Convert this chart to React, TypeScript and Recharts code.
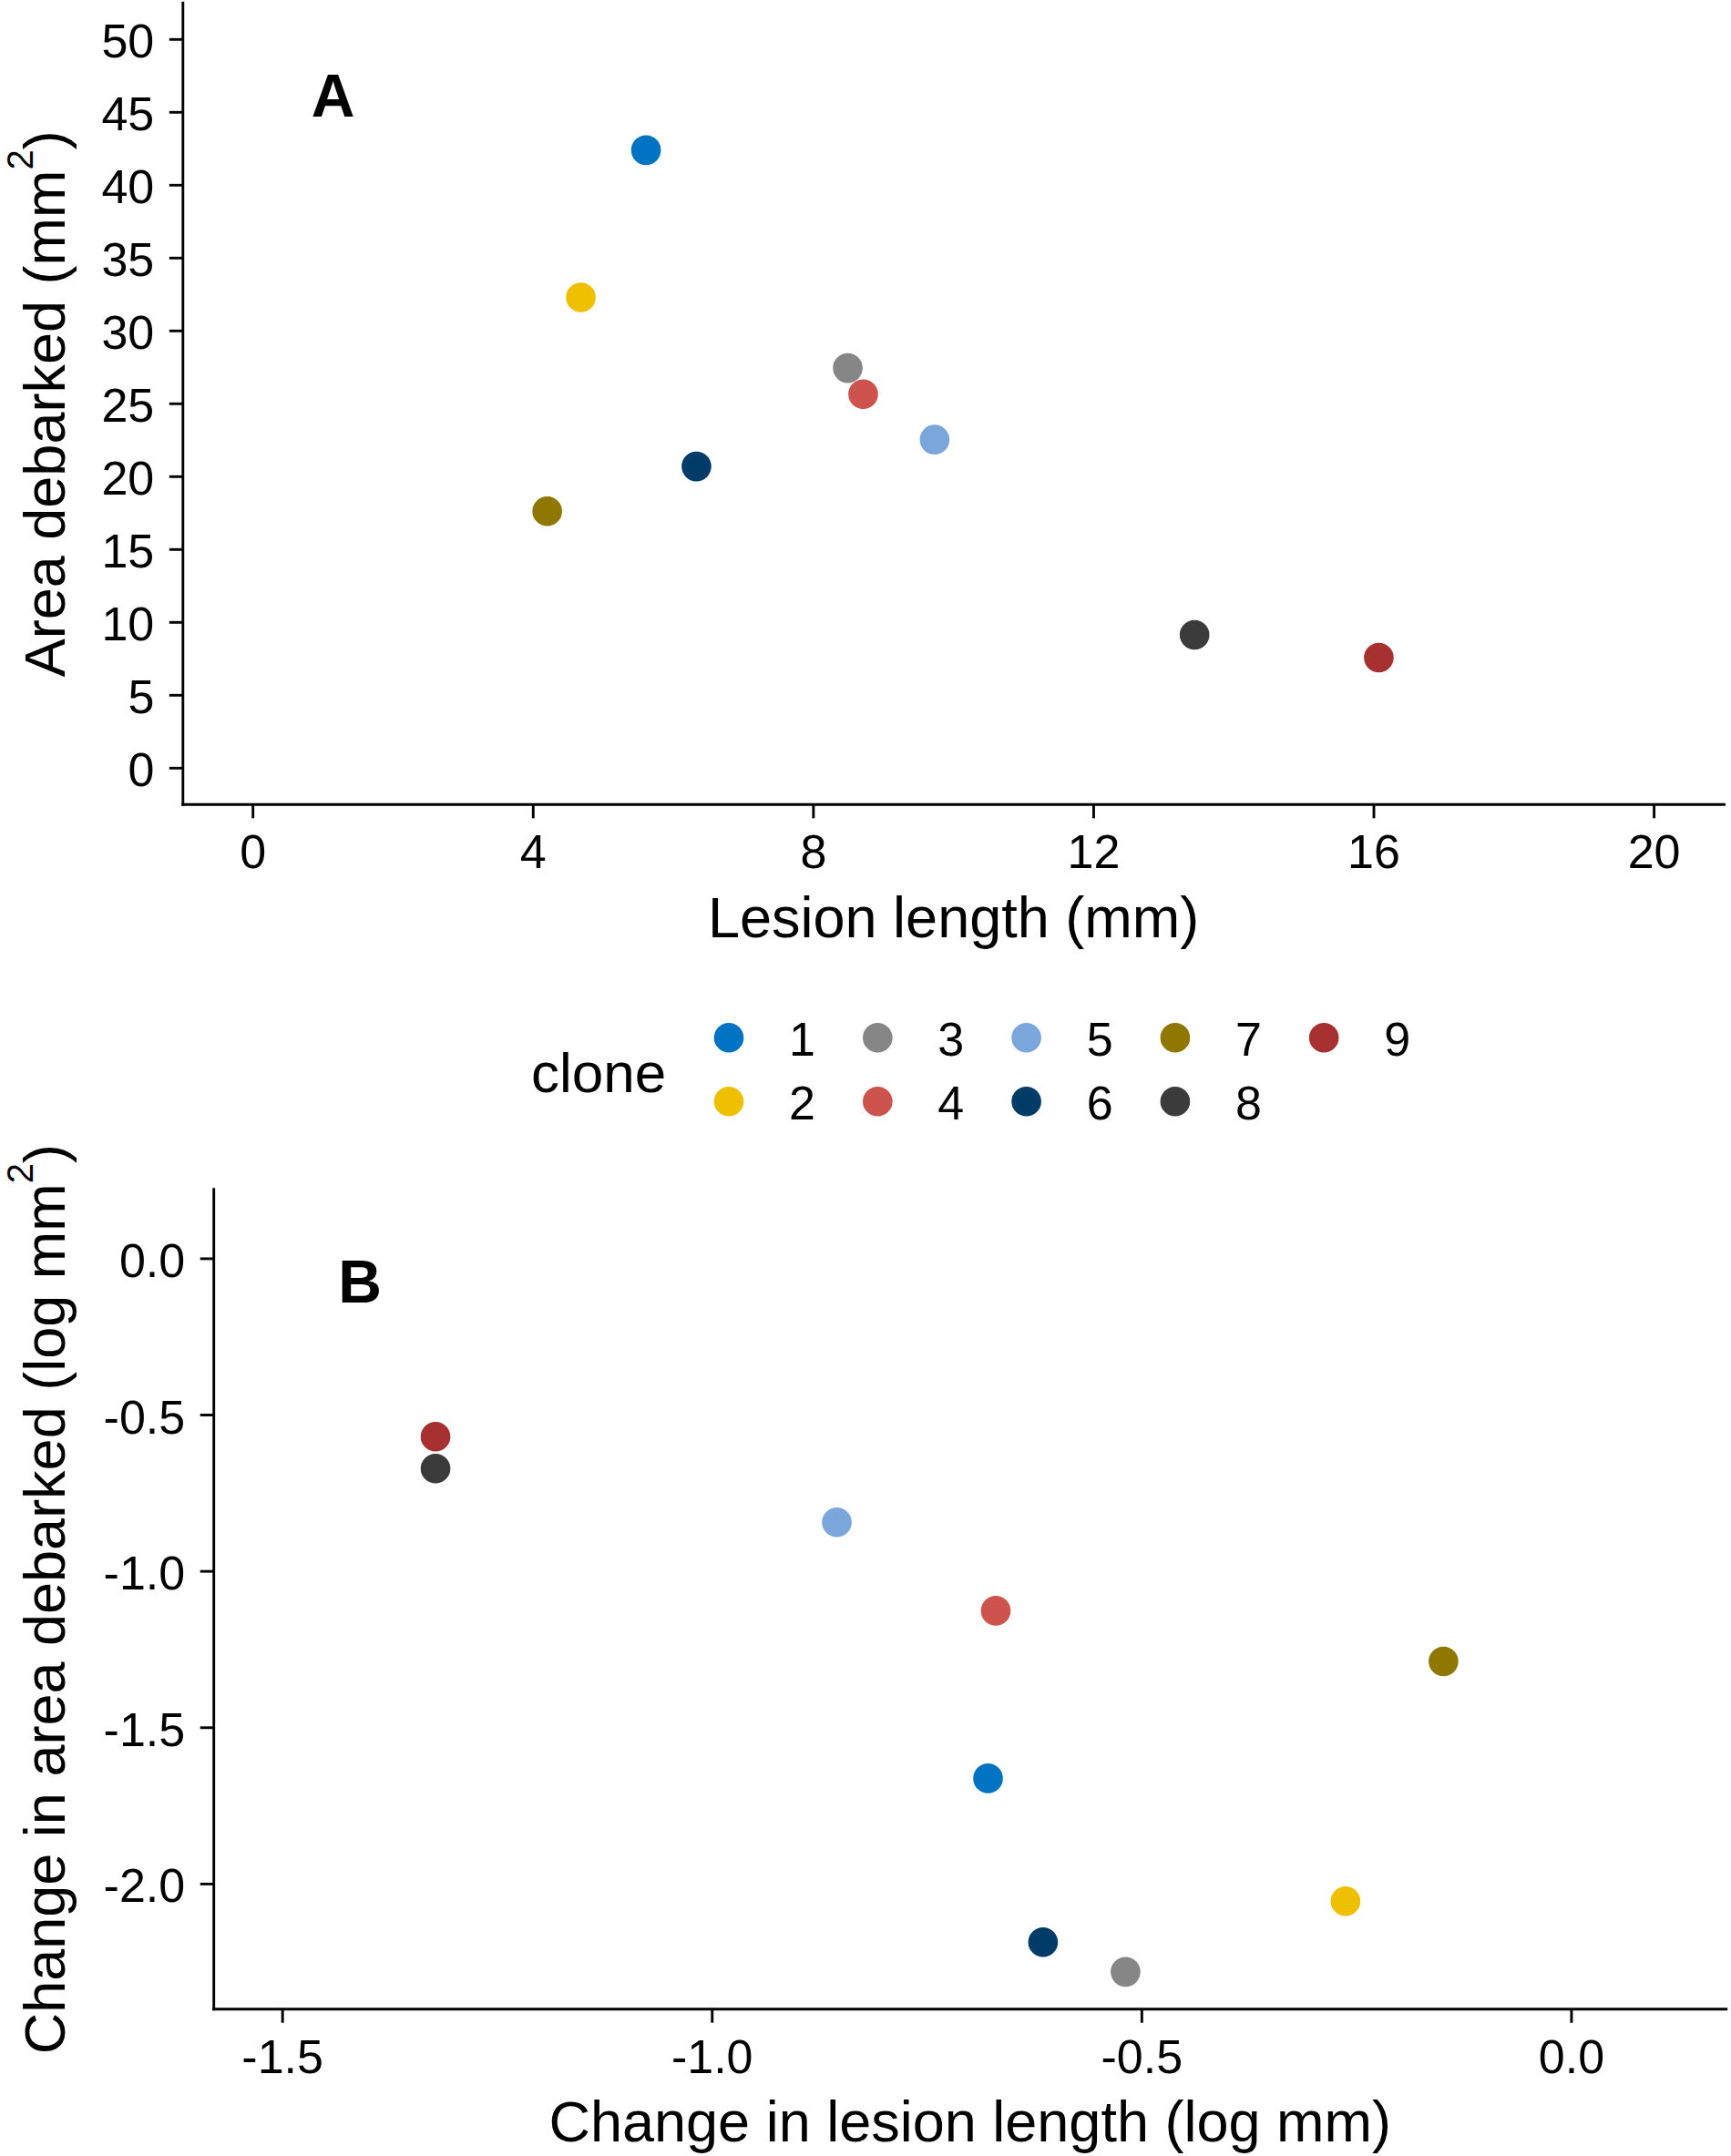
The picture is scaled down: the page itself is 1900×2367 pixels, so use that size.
import React from 'react';
import { ScatterChart, Scatter, XAxis, YAxis } from 'recharts';

const clones = ['1', '2', '3', '4', '5', '6', '7', '8', '9'];
const cloneColors = ['#0073C2', '#EFC000', '#868686', '#CD534C', '#7AA6DC', '#003C67', '#8F7700', '#3B3B3B', '#A73030'];

// Panel A
const lesionLength = [5.61, 4.68, 8.49, 8.71, 9.73, 6.33, 4.2, 13.44, 16.07];
const areaDebarked = [42.4, 32.3, 27.45, 25.66, 22.54, 20.7, 17.63, 9.14, 7.58];
// Panel B
const changeLesion = [-0.679, -0.263, -0.519, -0.67, -0.855, -0.615, -0.149, -1.322, -1.322];
const changeArea = [-1.662, -2.055, -2.281, -1.126, -0.843, -2.186, -1.288, -0.671, -0.569];

const xTicksA = [0, 4, 8, 12, 16, 20];
const yTicksA = [0, 5, 10, 15, 20, 25, 30, 35, 40, 45, 50];
const xTicksB = [-1.5, -1.0, -0.5, 0.0];
const yTicksB = [0.0, -0.5, -1.0, -1.5, -2.0];

const FONT = '"Liberation Sans", Arial, Helvetica, sans-serif';
const TICK_FS = 52;
const TITLE_FS = 63;

const fmtInt = (v: number) => String(v);
const fmt1 = (v: number) => (Math.abs(v) < 1e-9 ? '0.0' : v.toFixed(1));

const makeXTick = (fmt: (v: number) => string) => (props: any) => (
  <text x={props.x} y={props.y} dy={55} textAnchor="middle" fontSize={TICK_FS} fontFamily={FONT} fill="#000">
    {fmt(props.payload.value)}
  </text>
);
const makeYTick = (fmt: (v: number) => string) => (props: any) => (
  <text x={props.x - 16.5} y={props.y} dy={20} textAnchor="end" fontSize={TICK_FS} fontFamily={FONT} fill="#000">
    {fmt(props.payload.value)}
  </text>
);

const makeDot = (color: string) => (props: any) => (
  <circle cx={props.cx} cy={props.cy} r={16.3} fill={color} stroke="none" />
);

const axisLineStyle = { stroke: '#000', strokeWidth: 2.9, strokeLinecap: 'square' as const };
const tickLineStyle = { stroke: '#000', strokeWidth: 2.9 };

export default function App() {
  return (
    <div style={{ position: 'absolute', left: 0, top: 0, width: 1900, height: 2367, background: '#fff' }}>
      <div style={{ position: 'absolute', left: 0, top: 0 }}>
        <ScatterChart width={1900} height={1060} margin={{ top: 3.3, right: 7.5, bottom: 0, left: 0 }}>
          <XAxis
            type="number"
            dataKey="x"
            domain={[-1, 21]}
            ticks={xTicksA}
            interval={0}
            allowDataOverflow
            height={176.7}
            tickSize={15}
            tickMargin={0}
            axisLine={axisLineStyle}
            tickLine={tickLineStyle}
            tick={makeXTick(fmtInt)}
          />
          <YAxis
            type="number"
            dataKey="y"
            domain={[-2.5, 52.5]}
            ticks={yTicksA}
            interval={0}
            allowDataOverflow
            width={200.8}
            tickSize={15}
            tickMargin={0}
            axisLine={axisLineStyle}
            tickLine={tickLineStyle}
            tick={makeYTick(fmtInt)}
          />
          {clones.map((c, i) => (
            <Scatter
              key={c}
              name={c}
              data={[{ x: lesionLength[i], y: areaDebarked[i] }]}
              fill={cloneColors[i]}
              shape={makeDot(cloneColors[i])}
              isAnimationActive={false}
            />
          ))}
        </ScatterChart>
      </div>

      <div style={{ position: 'absolute', left: 0, top: 1240 }}>
        <ScatterChart width={1900} height={1127} margin={{ top: 65.7, right: 5.3, bottom: 0, left: 0 }}>
          <XAxis
            type="number"
            dataKey="x"
            domain={[-1.58, 0.18]}
            ticks={xTicksB}
            interval={0}
            allowDataOverflow
            height={161.3}
            tickSize={15}
            tickMargin={0}
            axisLine={axisLineStyle}
            tickLine={tickLineStyle}
            tick={makeXTick(fmt1)}
          />
          <YAxis
            type="number"
            dataKey="y"
            domain={[-2.4, 0.222]}
            ticks={yTicksB}
            interval={0}
            allowDataOverflow
            width={234.7}
            tickSize={15}
            tickMargin={0}
            axisLine={axisLineStyle}
            tickLine={tickLineStyle}
            tick={makeYTick(fmt1)}
          />
          {clones.map((c, i) => (
            <Scatter
              key={c}
              name={c}
              data={[{ x: changeLesion[i], y: changeArea[i] }]}
              fill={cloneColors[i]}
              shape={makeDot(cloneColors[i])}
              isAnimationActive={false}
            />
          ))}
        </ScatterChart>
      </div>

      <svg
        width={1900}
        height={2367}
        style={{ position: 'absolute', left: 0, top: 0, pointerEvents: 'none' }}
        fontFamily={FONT}
      >
        {/* Panel letters */}
        <text x={365.5} y={128} textAnchor="middle" fontSize={66} fontWeight="bold" fill="#000">A</text>
        <text x={395} y={1430} textAnchor="middle" fontSize={66} fontWeight="bold" fill="#000">B</text>

        {/* Axis titles A */}
        <text x={1046.6} y={1029} textAnchor="middle" fontSize={TITLE_FS} fill="#000">Lesion length (mm)</text>
        <text transform="translate(70.5, 443.3) rotate(-90)" textAnchor="middle" fontSize={TITLE_FS} fill="#000">
          Area debarked (mm<tspan dy={-35} fontSize={40}>2</tspan><tspan dy={35}>)</tspan>
        </text>

        {/* Axis titles B */}
        <text x={1064.7} y={2350.7} textAnchor="middle" fontSize={TITLE_FS} fill="#000">Change in lesion length (log mm)</text>
        <text transform="translate(70.5, 1755.7) rotate(-90)" textAnchor="middle" fontSize={TITLE_FS} fill="#000">
          Change in area debarked (log mm<tspan dy={-35} fontSize={40}>2</tspan><tspan dy={35}>)</tspan>
        </text>

        {/* Legend */}
        <text x={583} y={1199.3} fontSize={TITLE_FS - 1} fill="#000">clone</text>
        {clones.map((c, i) => {
          const col = Math.floor(i / 2);
          const row = i % 2;
          const cx = 800 + col * 163.3;
          const cy = 1139.3 + row * 70;
          return (
            <g key={c}>
              <circle cx={cx} cy={cy} r={16.3} fill={cloneColors[i]} />
              <text x={cx + 80.5} y={cy + 20} textAnchor="middle" fontSize={TICK_FS} fill="#000">{c}</text>
            </g>
          );
        })}
      </svg>
    </div>
  );
}
